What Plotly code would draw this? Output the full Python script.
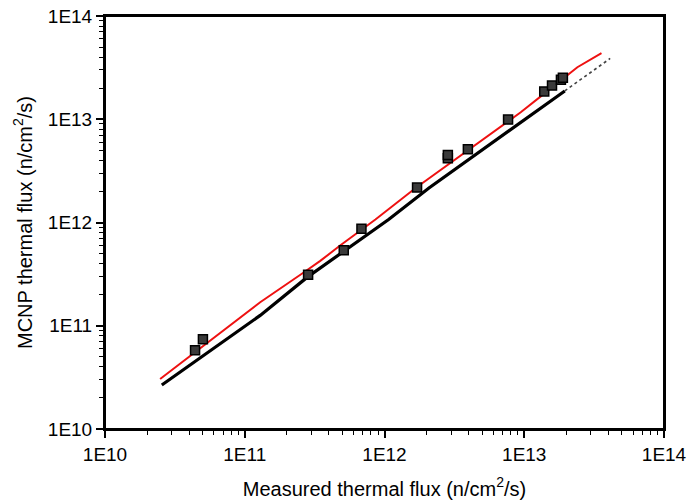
import plotly.graph_objects as go

# Measured data (squares)
meas_x = [4.41e10, 5.02e10, 2.84e11, 5.11e11, 6.84e11, 1.71e12, 2.84e12, 2.84e12,
          3.95e12, 7.66e12, 1.39e13, 1.58e13, 1.83e13, 1.89e13]
meas_y = [5.79e10, 7.38e10, 3.11e11, 5.38e11, 8.69e11, 2.18e12, 4.19e12, 4.51e12,
          5.12e12, 9.93e12, 1.86e13, 2.12e13, 2.41e13, 2.53e13]

# Red curve
red_x = [2.48e10, 4.80e10, 1.29e11, 2.64e11, 3.47e11, 4.84e11, 6.84e11, 8.61e11,
         1.67e12, 9.44e12, 1.39e13, 2.40e13, 3.57e13]
red_y = [3.05e10, 6.01e10, 1.69e11, 3.28e11, 4.25e11, 6.01e11, 8.57e11, 1.07e12,
         2.16e12, 1.17e13, 1.77e13, 3.19e13, 4.37e13]

# Black curve (thick part)
blk_x = [2.55e10, 1.29e11, 2.79e11, 5.11e11, 1.07e12, 2.08e12, 9.44e12, 1.95e13]
blk_y = [2.67e10, 1.26e11, 2.94e11, 5.30e11, 1.07e12, 2.16e12, 9.42e12, 1.88e13]
# Black curve (thin dotted tail)
tail_x = [1.95e13, 4.12e13]
tail_y = [1.88e13, 3.88e13]

tick_vals = [1e10, 1e11, 1e12, 1e13, 1e14]
tick_text = ["1E10", "1E11", "1E12", "1E13", "1E14"]
minor_vals = [m * d for d in [1e10, 1e11, 1e12, 1e13] for m in range(2, 10)]

FONT = "Liberation Sans, Arial, sans-serif"

fig = go.Figure()
fig.add_trace(go.Scatter(x=tail_x, y=tail_y, mode="lines",
                         line=dict(color="#444444", width=1.6, dash="dot"),
                         showlegend=False))
fig.add_trace(go.Scatter(x=blk_x, y=blk_y, mode="lines",
                         line=dict(color="black", width=3.2),
                         showlegend=False))
fig.add_trace(go.Scatter(x=red_x, y=red_y, mode="lines",
                         line=dict(color="#ee1111", width=2),
                         showlegend=False))
fig.add_trace(go.Scatter(x=meas_x, y=meas_y, mode="markers",
                         marker=dict(symbol="square", size=9, color="#3a3a3a",
                                     line=dict(color="black", width=1.5)),
                         showlegend=False))

axis_common = dict(
    type="log", tickvals=tick_vals, ticktext=tick_text, automargin=False,
    ticklabeloverflow="allow",
    ticks="outside", ticklen=7, tickwidth=1.5, tickcolor="black",
    showline=True, linecolor="black", linewidth=2, mirror=True,
    showgrid=False, zeroline=False,
    tickfont=dict(family=FONT, size=19, color="black"),
    minor=dict(tickvals=minor_vals, ticks="outside", ticklen=4, tickwidth=1.2,
               tickcolor="black", showgrid=False),
)

fig.update_xaxes(range=[10, 14],
                 title=dict(text="Measured thermal flux (n/cm<sup>2</sup>/s)",
                            font=dict(family=FONT, size=20, color="black"),
                            standoff=18),
                 **axis_common)
fig.update_yaxes(range=[10, 14],
                 title=dict(text="MCNP thermal flux (n/cm<sup>2</sup>/s)",
                            font=dict(family=FONT, size=20, color="black"),
                            standoff=10),
                 **axis_common)

# plot frame
fig.add_shape(type="rect", xref="paper", yref="paper", x0=0, x1=1, y0=0, y1=1,
              line=dict(color="black", width=2), fillcolor="rgba(0,0,0,0)",
              layer="above")

fig.update_layout(
    width=689, height=502,
    margin=dict(l=105, r=25, t=16, b=73),
    plot_bgcolor="white", paper_bgcolor="white",
)

# remove the default page margin so the figure sits at the window's corner
fig.write_html("out.html",
               config={"displayModeBar": False},
               post_script="document.body.style.margin='0';document.body.style.overflow='hidden';")
